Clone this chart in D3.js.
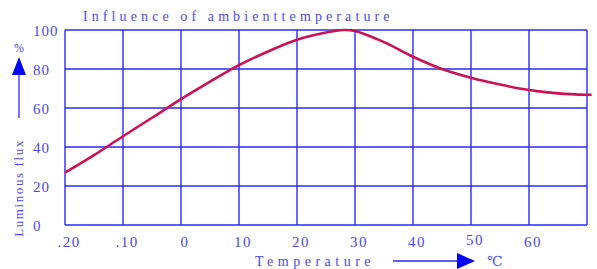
<!DOCTYPE html>
<html><head><meta charset="utf-8">
<script src="https://cdn.jsdelivr.net/npm/d3@7"></script>
<style>body{margin:0;background:#fff}svg{display:block}</style>
</head><body>
<svg id="c" width="597" height="269"></svg>
<script>
const xTicks = [-20,-10,0,10,20,30,40,50,60,70];
const xTickLabels = [".20",".10","0","10","20","30","40","50","60",""];
const yTicks = [0,20,40,60,80,100];
const temps = [-20,-15,-10,-5,0,5,10,15,20,25,28,30,35,40,45,50,55,60,65,70,70.8];
const flux  = [26.8,35.8,45.5,55,64.5,73.5,82,89,95,98.7,100,99.5,93.8,86.3,80,75.5,72,69.2,67.5,66.8,66.8];

const svg = d3.select("#c");
const x = d3.scaleLinear().domain([-20,70]).range([65,587]);
const y = d3.scaleLinear().domain([0,100]).range([225,30]);
const blue = "#2a2aff", txt = "#4a4aee";

// grid
svg.append("g").selectAll("line").data(xTicks).join("line")
  .attr("x1",d=>x(d)).attr("x2",d=>x(d)).attr("y1",y(0)).attr("y2",y(100))
  .attr("stroke",blue).attr("stroke-width",1.4);
svg.append("g").selectAll("line").data(yTicks).join("line")
  .attr("x1",x(-20)).attr("x2",x(70)).attr("y1",d=>y(d)).attr("y2",d=>y(d))
  .attr("stroke",blue).attr("stroke-width",1.4);

const font = "'Liberation Serif','DejaVu Serif',serif";
// y labels
svg.append("g").selectAll("text").data(yTicks).join("text")
  .attr("x",33).attr("y",d=>y(d)+6).text(d=>d)
  .attr("font-family",font).attr("font-size",15).attr("fill",txt).attr("letter-spacing",1);
// x labels
svg.append("g").selectAll("text").data(xTicks).join("text")
  .attr("x",d=>x(d)+4).attr("y",(d,i)=>xTicks[i]===50?245:247).text((d,i)=>xTickLabels[i])
  .attr("text-anchor","middle")
  .attr("font-family",font).attr("font-size",15).attr("fill",txt).attr("letter-spacing",1.5);

// curve
const line = d3.line().x((d,i)=>x(temps[i])).y(d=>y(d)).curve(d3.curveCatmullRom);
svg.append("path").attr("d",line(flux)).attr("fill","none")
  .attr("stroke","#cc1155").attr("stroke-width",2.6);

// title
svg.append("text").attr("x",83).attr("y",21).text("Influence of ambienttemperature")
  .attr("font-family",font).attr("font-size",14).attr("fill",txt).attr("letter-spacing",4.1);

// y axis label
svg.append("text").attr("transform","translate(23,188) rotate(-90)").attr("text-anchor","middle")
  .text("Luminous flux").attr("font-family",font).attr("font-size",13).attr("fill",txt).attr("letter-spacing",1.6);
svg.append("line").attr("x1",19).attr("x2",19).attr("y1",118).attr("y2",70).attr("stroke",blue).attr("stroke-width",1.3);
svg.append("path").attr("d","M19,57 L12,75 L26,75 Z").attr("fill","#0000ff");
svg.append("text").attr("x",19).attr("y",52).attr("text-anchor","middle").text("%")
  .attr("font-family",font).attr("font-size",12).attr("fill",txt);

// x axis label
svg.append("text").attr("x",255).attr("y",266).text("Temperature")
  .attr("font-family",font).attr("font-size",14).attr("fill",txt).attr("letter-spacing",4.5);
svg.append("line").attr("x1",393).attr("x2",462).attr("y1",261).attr("y2",261).attr("stroke",blue).attr("stroke-width",1.3);
svg.append("path").attr("d","M475,261 L457,253 L457,269 Z").attr("fill","#0000ff");
svg.append("text").attr("x",487).attr("y",266).text("℃")
  .attr("font-family",font).attr("font-size",14).attr("fill",txt);
</script>
</body></html>
